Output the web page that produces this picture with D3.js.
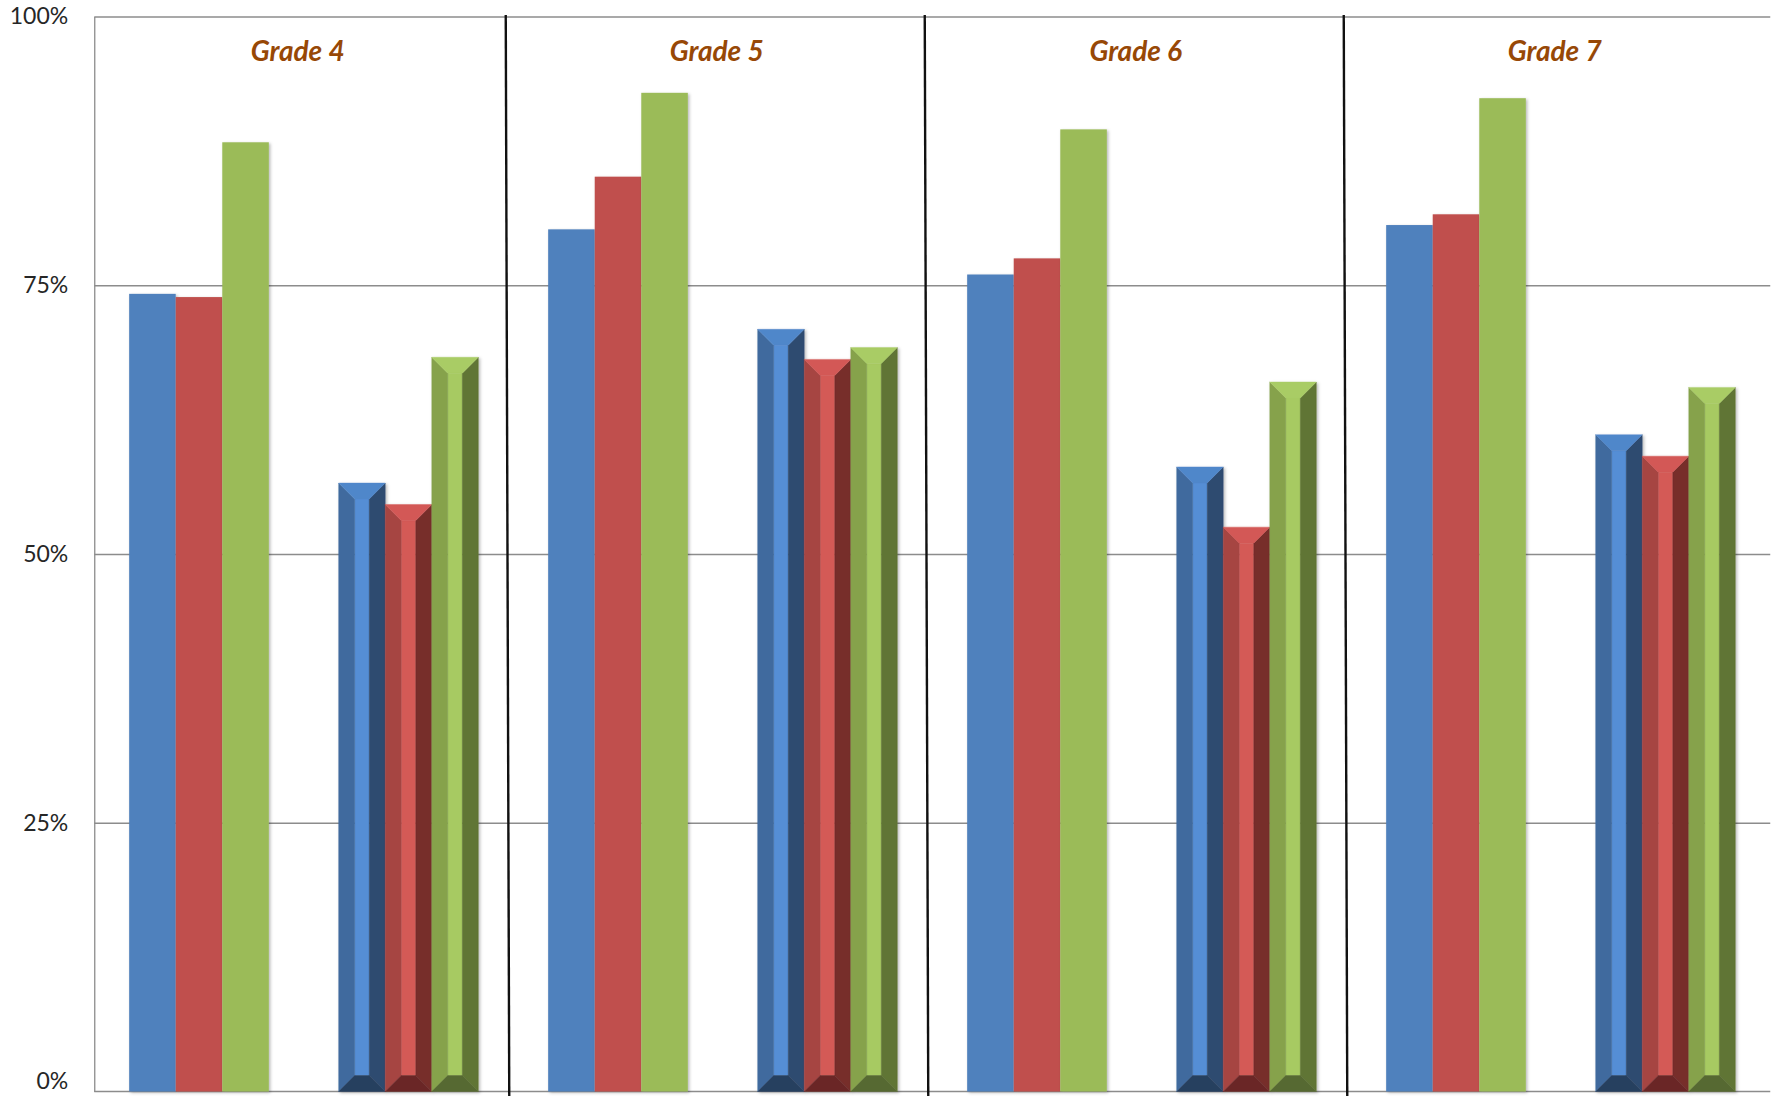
<!DOCTYPE html>
<html>
<head>
<meta charset="utf-8">
<script src="https://cdn.jsdelivr.net/npm/d3@7"></script>
<style>
  html, body { margin: 0; padding: 0; background: #ffffff; }
  svg { display: block; }
</style>
</head>
<body>
<svg id="chart" width="1779" height="1096"></svg>
<script>
// Four grades, each with two clusters of three bars (plain, then bevelled)
const grades = ["Grade 4", "Grade 5", "Grade 6", "Grade 7"];
const categories = ["G4-a", "G4-b", "G5-a", "G5-b", "G6-a", "G6-b", "G7-a", "G7-b"];
const seriesNames = ["s1", "s2", "s3"];

// Percentages per category, one array per series
const blueValues  = [74.2, 56.6, 80.2, 70.9, 76.0, 58.1, 80.6, 61.1];
const redValues   = [73.9, 54.6, 85.1, 68.1, 77.5, 52.5, 81.6, 59.1];
const greenValues = [88.3, 68.3, 92.9, 69.2, 89.5, 66.0, 92.4, 65.5];

const tickValues = [0, 25, 50, 75, 100];
const tickLabels = ["0%", "25%", "50%", "75%", "100%"];

// ---- layout ----
const W = 1779, H = 1096;
const plot = { left: 94.25, right: 1770.25, top: 16.5, bottom: 1091.5 };

const palette = {
  s1: { flat: "#4F81BD", top: "#5087CA", left: "#3F6B9E", center: "#558ED5", right: "#2D4B70", bottom: "#263F5F" },
  s2: { flat: "#C0504D", top: "#D35956", left: "#A64543", center: "#D45A57", right: "#772D2C", bottom: "#6B2827" },
  s3: { flat: "#9BBB59", top: "#A9CC65", left: "#86A24B", center: "#A7CA62", right: "#607434", bottom: "#566930" }
};

const valuesBySeries = { s1: blueValues, s2: redValues, s3: greenValues };

const svg = d3.select("#chart");

const defs = svg.append("defs");
const shadow = defs.append("filter").attr("id", "barShadow")
  .attr("x", "-10%").attr("y", "-5%").attr("width", "130%").attr("height", "115%");
shadow.append("feDropShadow")
  .attr("dx", 1.5).attr("dy", 1.2).attr("stdDeviation", 1.4)
  .attr("flood-color", "#000").attr("flood-opacity", 0.28);

const x = d3.scaleBand()
  .domain(categories)
  .range([plot.left, plot.right])
  .paddingInner(1 / 3)
  .paddingOuter(1 / 6);

const xs = d3.scaleBand()
  .domain(seriesNames)
  .range([0, x.bandwidth()])
  .padding(0);

const y = d3.scaleLinear()
  .domain([0, 100])
  .range([plot.bottom, plot.top]);

// horizontal gridlines
const grid = svg.append("g")
  .attr("transform", `translate(${plot.left},0)`)
  .call(d3.axisLeft(y)
    .tickValues(tickValues.filter(v => v > 0))
    .tickSize(-(plot.right - plot.left))
    .tickFormat(""));
grid.select(".domain").remove();
grid.selectAll("line").attr("stroke", "#8c8c8c").attr("stroke-width", 1.3);

// y axis with percent labels
const yAxis = svg.append("g")
  .attr("transform", `translate(${plot.left},0)`)
  .call(d3.axisLeft(y)
    .tickValues(tickValues)
    .tickSize(0)
    .tickPadding(26)
    .tickFormat((d, i) => tickLabels[i]));
yAxis.select(".domain").attr("stroke", "#8c8c8c").attr("stroke-width", 1.3);
yAxis.selectAll("text")
  .attr("font-family", "Lato, 'Liberation Sans', sans-serif")
  .attr("font-size", 23)
  .attr("fill", "#262626");
// keep the bottom label inside the canvas edge
yAxis.selectAll(".tick").filter(d => d === 0).select("text").attr("y", -10);

// x baseline
svg.append("line")
  .attr("x1", plot.left).attr("x2", plot.right)
  .attr("y1", y(0)).attr("y2", y(0))
  .attr("stroke", "#8c8c8c").attr("stroke-width", 1.3);

// flatten to one record per bar
const bars = [];
categories.forEach((c, ci) => {
  seriesNames.forEach(s => {
    bars.push({ cat: c, series: s, value: valuesBySeries[s][ci], bevel: ci % 2 === 1 });
  });
});

const barLayer = svg.append("g");

// plain bars
barLayer.selectAll("rect.flat")
  .data(bars.filter(d => !d.bevel))
  .join("rect")
  .attr("class", "flat")
  .attr("x", d => x(d.cat) + xs(d.series))
  .attr("width", xs.bandwidth())
  .attr("y", d => y(d.value))
  .attr("height", d => y(0) - y(d.value))
  .attr("fill", d => palette[d.series].flat)
  .attr("filter", "url(#barShadow)");

// bevelled bars: five facets built from the bar's box
function facets(d) {
  const x0 = x(d.cat) + xs(d.series);
  const x1 = x0 + xs.bandwidth();
  const yt = y(d.value);
  const yb = y(0);
  const b = Math.min(16, xs.bandwidth() / 2.9);
  const p = palette[d.series];
  return [
    { fill: p.center, pts: [[x0 + b, yt + b], [x1 - b, yt + b], [x1 - b, yb - b], [x0 + b, yb - b]] },
    { fill: p.left,   pts: [[x0, yt], [x0 + b, yt + b], [x0 + b, yb - b], [x0, yb]] },
    { fill: p.right,  pts: [[x1, yt], [x1 - b, yt + b], [x1 - b, yb - b], [x1, yb]] },
    { fill: p.top,    pts: [[x0, yt], [x1, yt], [x1 - b, yt + b], [x0 + b, yt + b]] },
    { fill: p.bottom, pts: [[x0, yb], [x1, yb], [x1 - b, yb - b], [x0 + b, yb - b]] }
  ];
}

const bevelGroups = barLayer.selectAll("g.bevel")
  .data(bars.filter(d => d.bevel))
  .join("g")
  .attr("class", "bevel")
  .attr("filter", "url(#barShadow)");

bevelGroups.selectAll("polygon")
  .data(d => facets(d))
  .join("polygon")
  .attr("points", f => f.pts.map(p => p.join(",")).join(" "))
  .attr("fill", f => f.fill)
  .attr("stroke", f => f.fill)
  .attr("stroke-width", 0.4);

// black separators between grades, drawn with a slight lean
const step = x.step();
const separators = [1, 2, 3].map(k => x(categories[2 * k]) - step * (1 / 3) / 2);
svg.append("g").selectAll("line")
  .data(separators)
  .join("line")
  .attr("x1", d => d - 7.5).attr("y1", 15)
  .attr("x2", d => d - 4).attr("y2", H)
  .attr("stroke", "#111").attr("stroke-width", 2.4);

// grade titles above each pair of clusters
svg.append("g").selectAll("text")
  .data(grades)
  .join("text")
  .attr("x", (g, i) => (x(categories[2 * i]) + x(categories[2 * i + 1]) + x.bandwidth()) / 2 - 6)
  .attr("y", 61)
  .attr("text-anchor", "middle")
  .attr("font-family", "Lato, 'Liberation Sans', sans-serif")
  .attr("font-weight", "bold")
  .attr("font-style", "italic")
  .attr("font-size", 28)
  .attr("fill", "#974806")
  .text(g => g);
</script>
</body>
</html>
